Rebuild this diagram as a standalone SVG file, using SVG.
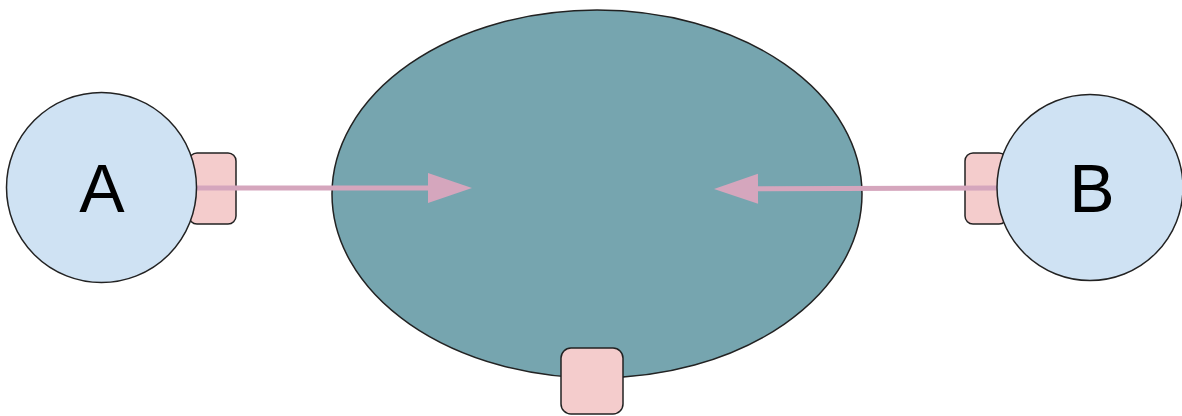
<svg xmlns="http://www.w3.org/2000/svg" width="1182" height="416" viewBox="0 0 1182 416">
<style>
.port{fill:#f4cccc;stroke:#222;stroke-width:1.5}
.node{fill:#cfe2f3;stroke:#222;stroke-width:1.5}
.lbl{font-family:"Liberation Sans",Arial,sans-serif;font-size:68px;fill:#000;text-anchor:middle}
.conn{stroke:#d5a6bd;stroke-width:5;fill:none}
</style>
<defs>
<marker id="arr" markerUnits="userSpaceOnUse" markerWidth="46" markerHeight="32" refX="1" refY="16" orient="auto" overflow="visible">
<path d="M0,1 L44,16 L0,31 Z" fill="#d5a6bd"/>
</marker>
</defs>
<rect width="1182" height="416" fill="#fff"/>
<g id="center">
<ellipse cx="597" cy="194" rx="265" ry="184" fill="#76a5af" stroke="#222" stroke-width="1.5"/>
<rect class="port" x="561" y="348" width="62" height="66" rx="10"/>
</g>
<g id="nodeA">
<rect class="port" x="189" y="153" width="47" height="71" rx="8"/>
</g>
<g id="nodeB">
<rect class="port" x="965" y="153" width="42" height="71" rx="8"/>
</g>
<g id="connectors">
<line class="conn" x1="197" y1="188" x2="429" y2="188" marker-end="url(#arr)"/>
<line class="conn" x1="998" y1="188" x2="757" y2="188.8" marker-end="url(#arr)"/>
</g>
<g id="circleA">
<circle class="node" cx="101.5" cy="187.5" r="95"/>
<text class="lbl" x="102" y="212">A</text>
</g>
<g id="circleB">
<circle class="node" cx="1090" cy="187.5" r="93"/>
<text class="lbl" x="1092" y="212">B</text>
</g>
</svg>
